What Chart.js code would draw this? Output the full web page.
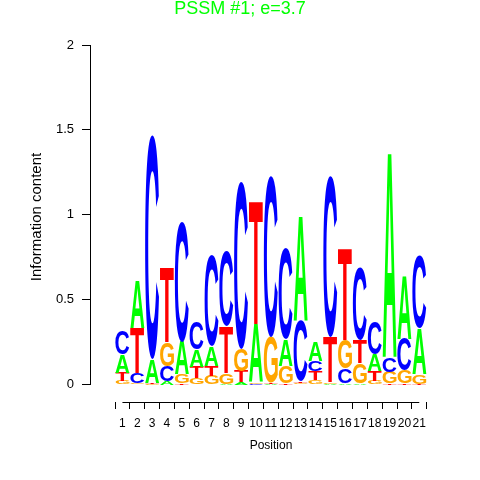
<!DOCTYPE html>
<html>
<head>
<meta charset="utf-8">
<script src="https://cdn.jsdelivr.net/npm/chart.js@4.4.0/dist/chart.umd.min.js"></script>
<style>
  html, body { margin: 0; padding: 0; background: #ffffff; }
</style>
</head>
<body>
<canvas id="logo" width="480" height="480"></canvas>
<script>
// positions of the motif
const positions = [1, 2, 3, 4, 5, 6, 7, 8, 9, 10, 11, 12, 13, 14, 15, 16, 17, 18, 19, 20, 21];
// information content (bits) per letter and position
const heightA = [0.105, 0.285, 0.14, 0.02, 0.195, 0.10, 0.117, 0.005, 0.013, 0.343, 0.005, 0.155, 0.62, 0.115, 0.005, 0.005, 0.01, 0.10, 1.215, 0.375, 0.27];
const heightC = [0.135, 0.06, 1.32, 0.09, 0.705, 0.165, 0.536, 0.44, 0.985, 0.005, 0.946, 0.535, 0.36, 0.06, 0.95, 0.088, 0.425, 0.19, 0.088, 0.19, 0.43];
const heightG = [0.02, 0.01, 0.005, 0.14, 0.05, 0.04, 0.05, 0.065, 0.13, 0.01, 0.27, 0.10, 0.01, 0.025, 0.01, 0.167, 0.115, 0.02, 0.07, 0.075, 0.055];
const heightT = [0.05, 0.265, 0.005, 0.44, 0.01, 0.065, 0.057, 0.275, 0.065, 0.725, 0.005, 0.01, 0.01, 0.055, 0.266, 0.545, 0.14, 0.06, 0.005, 0.005, 0.005];
const yTicks = [0, 0.5, 1, 1.5, 2];

const letterColors = { A: '#00FF00', C: '#0000FF', G: '#FFA500', T: '#FF0000' };
const FONT = '"Liberation Sans", Arial, Helvetica, sans-serif';

const series = { A: heightA, C: heightC, G: heightG, T: heightT };

// draws the stacked letters (smallest at bottom) + R style axis lines
const logoLetters = {
  id: 'logoLetters',
  afterDatasetsDraw(chart) {
    const { ctx, scales: { x, y }, chartArea } = chart;
    ctx.save();
    ctx.font = 'bold 100px ' + FONT;
    ctx.textAlign = 'left';
    ctx.textBaseline = 'alphabetic';
    positions.forEach((pos, i) => {
      const stack = chart.data.datasets
        .map(ds => ({ letter: ds.label, h: ds.data[i].y }))
        .sort((a, b) => a.h - b.h);
      const left = x.getPixelForValue(pos - 0.47);
      const right = x.getPixelForValue(pos + 0.47);
      let base = 0;
      stack.forEach(s => {
        const yBot = y.getPixelForValue(base);
        const yTop = y.getPixelForValue(base + s.h);
        base += s.h;
        if (yBot - yTop < 0.3) return;
        const m = ctx.measureText(s.letter);
        const gw = m.actualBoundingBoxLeft + m.actualBoundingBoxRight;
        const gh = m.actualBoundingBoxAscent + m.actualBoundingBoxDescent;
        ctx.save();
        ctx.translate(left, yTop);
        ctx.scale((right - left) / gw, (yBot - yTop) / gh);
        ctx.fillStyle = letterColors[s.letter];
        ctx.fillText(s.letter, m.actualBoundingBoxLeft, m.actualBoundingBoxAscent);
        ctx.restore();
      });
    });

    // axis lines only between first and last tick
    ctx.strokeStyle = '#000';
    ctx.lineWidth = 1;
    const ax = Math.round(chartArea.left) - 0.5;
    const ay = Math.round(chartArea.bottom) + 0.5;
    ctx.beginPath();
    ctx.moveTo(ax, y.getPixelForValue(yTicks[0]));
    ctx.lineTo(ax, y.getPixelForValue(yTicks[yTicks.length - 1]));
    ctx.moveTo(x.getPixelForValue(positions[0]), ay);
    ctx.lineTo(x.getPixelForValue(positions[positions.length - 1]), ay);
    ctx.stroke();
    ctx.restore();
  }
};

const ctx = document.getElementById('logo');
new Chart(ctx, {
  type: 'bar',
  data: {
    datasets: Object.keys(series).map(letter => ({
      label: letter,
      data: positions.map((p, i) => ({ x: p, y: series[letter][i] })),
      backgroundColor: 'rgba(0,0,0,0)',
      borderWidth: 0
    }))
  },
  options: {
    responsive: false,
    animation: false,
    devicePixelRatio: 1,
    layout: { padding: 0 },
    plugins: {
      legend: { display: false },
      tooltip: { enabled: false },
      title: {
        display: true,
        text: 'PSSM #1; e=3.7',
        color: '#00FF00',
        font: { family: FONT, size: 18, weight: 'normal', lineHeight: 1 },
        padding: { top: 0, bottom: 14 }
      }
    },
    scales: {
      x: {
        type: 'linear',
        min: -0.54,
        max: 22.56,
        afterBuildTicks: s => { s.ticks = positions.map(v => ({ value: v })); },
        afterFit: s => { s.height = 78; },
        grid: { display: true, drawOnChartArea: false, drawTicks: true, tickLength: 7, color: '#000' },
        border: { display: false },
        ticks: {
          autoSkip: false, maxRotation: 0, padding: 7, color: '#000',
          font: { family: FONT, size: 12 },
          callback: v => String(v)
        },
        title: {
          display: true, text: 'Position', color: '#000',
          font: { family: FONT, size: 12 },
          padding: { top: 0, bottom: 27 }
        }
      },
      y: {
        type: 'linear',
        min: -0.103,
        max: 2.0766,
        afterBuildTicks: s => { s.ticks = yTicks.map(v => ({ value: v })); },
        afterFit: s => { s.width = 91; },
        grid: { display: true, drawOnChartArea: false, drawTicks: true, tickLength: 9, color: '#000' },
        border: { display: false },
        ticks: {
          padding: 8, color: '#000',
          font: { family: FONT, size: 13 },
          callback: v => String(v)
        },
        title: {
          display: true, text: 'Information content', color: '#000',
          font: { family: FONT, size: 15 },
          padding: { top: 28, bottom: 0 }
        }
      },
      yRight: {
        position: 'right',
        display: true,
        grid: { display: false },
        border: { display: false },
        ticks: { display: false },
        afterFit: s => { s.width = 29; }
      }
    }
  },
  plugins: [logoLetters]
});
</script>
</body>
</html>
